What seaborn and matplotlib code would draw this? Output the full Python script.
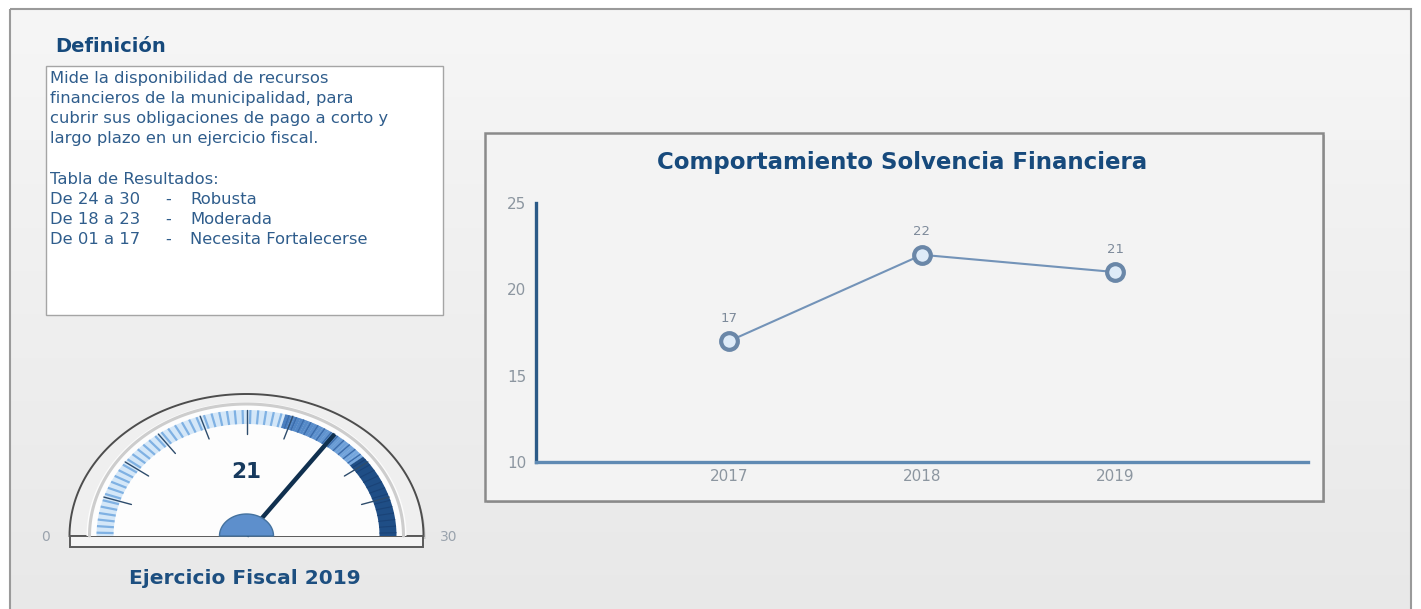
import numpy as np
import matplotlib
matplotlib.use("Agg")
import matplotlib.pyplot as plt
import seaborn as sns
from matplotlib.patches import Rectangle, Polygon
from matplotlib.colors import LinearSegmentedColormap

# ---- data ----
years = ["2017", "2018", "2019"]
scores = [17, 22, 21]
y_ticks = [10, 15, 20, 25]

gauge_value = 21
gauge_min, gauge_max = 0, 30
band_edges = [0, 17.5, 23.5, 30]

title = "Comportamiento Solvencia Financiera"
gauge_caption = "Ejercicio Fiscal 2019"
definition_title = "Definición"
definition_lines = [
    "Mide la disponibilidad de recursos",
    "financieros de la municipalidad, para",
    "cubrir sus obligaciones de pago a corto y",
    "largo plazo en un ejercicio fiscal.",
]
table_title = "Tabla de Resultados:"
table_ranges = ["De 24 a 30", "De 18 a 23", "De 01 a 17"]
table_labels = ["Robusta", "Moderada", "Necesita Fortalecerse"]

# ---- style ----
sns.set_theme(style="white")
plt.rcParams["font.family"] = ["DejaVu Sans"]

W, H = 1421, 609
fig = plt.figure(figsize=(W / 100, H / 100), dpi=100)
fig.patch.set_facecolor("white")

# background layer in pixel coordinates
bg = fig.add_axes([0, 0, 1, 1])
bg.axis("off")

panel_cmap = LinearSegmentedColormap.from_list("panel", ["#f6f6f6", "#e8e8e8"])
grad = np.linspace(0, 1, 256).reshape(-1, 1)
bg.imshow(grad, extent=(10, 1411, 620, 9), cmap=panel_cmap, aspect="auto", zorder=0)
bg.add_patch(Rectangle((10, 9), 1401, 611, fill=False, ec="#9a9a9a", lw=1.5, zorder=1))

# definition box
TXT = "#2f5d8c"
DARK = "#174a7c"
BODY = 11.8
bg.text(55, 47, definition_title, fontsize=14, fontweight="bold", color=DARK,
        ha="left", va="center", zorder=3)
bg.add_patch(Rectangle((46, 66), 397, 249, fc="white", ec="#a5a5a5", lw=1.0, zorder=2))
for i, line in enumerate(definition_lines):
    bg.text(50, 78 + i * 20, line, fontsize=BODY, color=TXT, ha="left", va="center", zorder=3)
bg.text(50, 179, table_title, fontsize=BODY, color=TXT, ha="left", va="center", zorder=3)
for i, (rng, lab) in enumerate(zip(table_ranges, table_labels)):
    yy = 199 + i * 20
    bg.text(50, yy, rng, fontsize=BODY, color=TXT, ha="left", va="center", zorder=3)
    bg.text(168, yy, "-", fontsize=BODY, color=TXT, ha="center", va="center", zorder=3)
    bg.text(190, yy, lab, fontsize=BODY, color=TXT, ha="left", va="center", zorder=3)

# line chart panel
bg.add_patch(Rectangle((487, 135), 838, 368, fc="#bdbdbd", ec="none", zorder=1))
bg.add_patch(Rectangle((485, 133), 838, 368, fc="#f3f3f3", ec="#8a8a8a", lw=1.8, zorder=2))
bg.text(902, 162, title, fontsize=16.5, fontweight="bold", color=DARK,
        ha="center", va="center", zorder=3)

# ---- gauge ----
cx, cy = 246.5, 536.0


def ang(v):
    return np.pi * (1 - (v - gauge_min) / (gauge_max - gauge_min))


def ell(rx, ry, t):
    return cx + rx * np.cos(t), cy - ry * np.sin(t)


def ring(v0, v1, rxo, ryo, rxi, ryi, color, z, n=60):
    t = np.linspace(ang(v0), ang(v1), n)
    xo, yo = ell(rxo, ryo, t)
    xi, yi = ell(rxi, ryi, t[::-1])
    pts = np.column_stack([np.concatenate([xo, xi]), np.concatenate([yo, yi])])
    bg.add_patch(Polygon(pts, closed=True, fc=color, ec="none", zorder=z))


def half(rx, ry, fc, ec, lw, z, dx=0, dy=0):
    t = np.linspace(0, np.pi, 120)
    x, y = ell(rx, ry, t)
    bg.add_patch(Polygon(np.column_stack([x + dx, y + dy]), closed=True,
                         fc=fc, ec=ec, lw=lw, zorder=z))


# shadow, rim and face
half(177, 142, "#c4c4c4", "none", 0, 3, dx=2, dy=3)
half(177, 142, "#efefef", "#4d4d4d", 1.4, 4)
half(160, 134, "#fdfdfd", "none", 0, 4.5)
t_arc = np.linspace(0, np.pi, 120)
ax_, ay_ = ell(157, 132, t_arc)
bg.plot(ax_, ay_, color="#cdcdcd", lw=2.2, zorder=4.6)
bg.add_patch(Rectangle((70, cy), 353, 11, fc="#f4f4f4", ec="#5a5a5a", lw=1.4, zorder=4.2))

# coloured scale bands
RXO, RYO, RXI, RYI = 150, 126, 133, 112
ring(band_edges[0], band_edges[1], RXO, RYO, RXI, RYI, "#d4e7f8", 5)
mid_cmap = LinearSegmentedColormap.from_list("mid", ["#4a7fc0", "#78a9df"])
steps = np.linspace(band_edges[1], band_edges[2], 31)
for k in range(30):
    ring(steps[k], steps[k + 1] + 0.02, RXO, RYO, RXI, RYI, mid_cmap(k / 29), 5, n=6)
ring(band_edges[2], band_edges[3], RXO, RYO, RXI, RYI, "#1f4e86", 5)

# minor ticks
for v in np.arange(gauge_min + 0.25, gauge_max, 0.5):
    t = ang(v)
    x0, y0 = ell(RXI, RYI, t)
    x1, y1 = ell(RXO, RYO, t)
    if v < band_edges[1]:
        c, lw = "#7fb1e3", 1.6
    elif v < band_edges[2]:
        c, lw = "#3b6cab", 1.0
    else:
        c, lw = "#1a4377", 0.8
    bg.plot([x0, x1], [y0, y1], color=c, lw=lw, zorder=5.5, solid_capstyle="butt")

# major ticks
for v in np.arange(3, gauge_max, 3):
    t = ang(v)
    x0, y0 = ell(121, 102, t)
    x1, y1 = ell(RXO, RYO, t)
    bg.plot([x0, x1], [y0, y1], color="#2e4c6c", lw=1.0, zorder=6)

# needle and hub
tn = ang(gauge_value)
nx, ny = ell(RXO, RYO, tn)
bg.plot([cx, nx], [cy, ny], color="#10304f", lw=3.2, zorder=7, solid_capstyle="butt")
half(27, 22, "#5d8fcc", "#44729f", 1.0, 8)

bg.text(cx, 472, str(gauge_value), fontsize=15.5, fontweight="bold", color="#173a5e",
        ha="center", va="center", zorder=8)
bg.text(46, 537, str(gauge_min), fontsize=10, color="#9aa3ad", ha="center", va="center", zorder=8)
bg.text(449, 537, str(gauge_max), fontsize=10, color="#9aa3ad", ha="center", va="center", zorder=8)
bg.text(245, 579, gauge_caption, fontsize=14.5, fontweight="bold", color="#1d4f80",
        ha="center", va="center", zorder=8)

bg.set_xlim(0, W)
bg.set_ylim(H, 0)

# ---- line chart ----
left, right, top, bottom = 536, 1308, 203, 462
ax = fig.add_axes([left / W, (H - bottom) / H, (right - left) / W, (bottom - top) / H])
ax.set_facecolor("none")
sns.lineplot(x=years, y=scores, ax=ax, color="#7393b8", lw=1.5, marker="o",
             markersize=12, markeredgewidth=3, markeredgecolor="#6a87a8",
             markerfacecolor="#deebf8", sort=False)
for i, v in enumerate(scores):
    ax.annotate(str(v), (i, v), xytext=(0, 16.5), textcoords="offset points",
                ha="center", va="center", fontsize=9.5, color="#7d8a9a")
ax.set_xlim(-1, 3)
ax.set_ylim(10, 25)
ax.set_yticks(y_ticks)
ax.set_yticklabels([str(t) for t in y_ticks])
ax.set_xlabel("")
ax.set_ylabel("")
ax.tick_params(axis="both", length=0, labelsize=11, labelcolor="#8c96a0")
ax.tick_params(axis="y", pad=7)
ax.tick_params(axis="x", pad=5)
ax.grid(False)
for s in ["top", "right"]:
    ax.spines[s].set_visible(False)
ax.spines["left"].set_color("#2b5a87")
ax.spines["left"].set_linewidth(2.4)
ax.spines["bottom"].set_color("#5f8ab3")
ax.spines["bottom"].set_linewidth(2.4)

fig.savefig("out.png", dpi=100)
